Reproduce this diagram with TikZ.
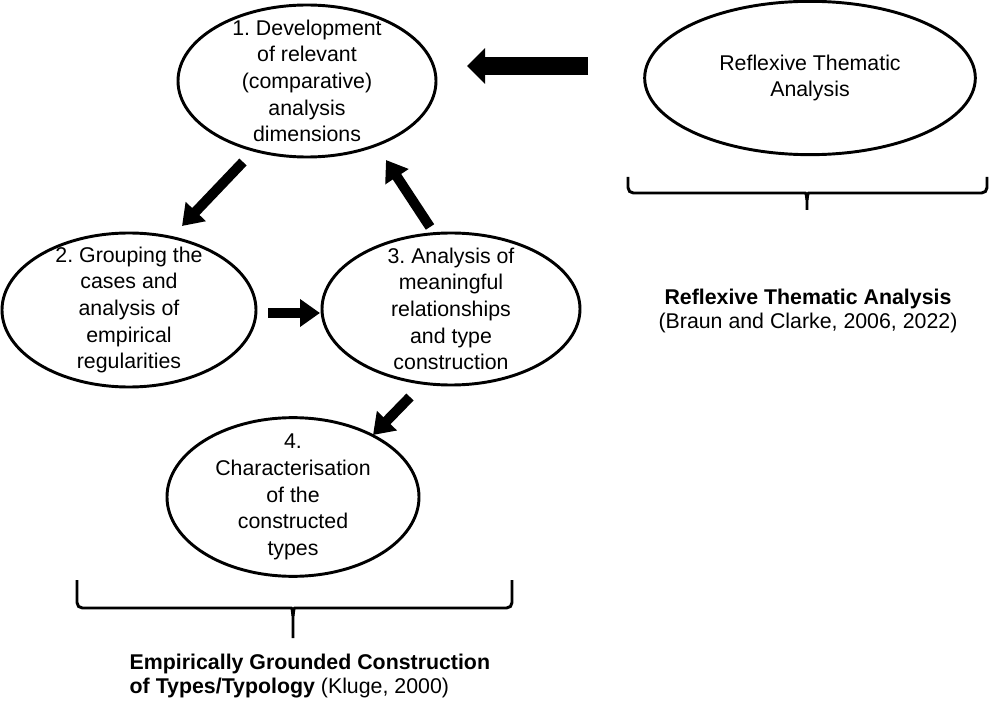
\documentclass[tikz,border=0pt]{standalone}
\usepackage{fontspec}
\setmainfont{Liberation Sans}
\usepackage{tikz}
\usetikzlibrary{arrows.meta,shapes.geometric}
\frenchspacing
\tikzstyle{stage} = [draw, ellipse, line width=2.2pt, inner sep=0pt]
\tikzstyle{stagetxt} = [align=center, font=\fontsize{16}{20}\selectfont]
\tikzstyle{es} = [line width=7.5pt, -{Triangle[width=20pt,length=15pt]}]
\tikzstyle{biges} = [line width=13.5pt, -{Triangle[width=26pt,length=13.5pt]}]
\tikzstyle{brace} = [line width=2.2pt]
\tikzstyle{ref} = [font=\fontsize{16}{18}\selectfont]

\begin{document}
\begin{tikzpicture}[x=0.75pt,y=-0.75pt]
			\useasboundingbox (0,0) rectangle (989,702);
			% stages of the typology
			\node[stage, minimum width=193.5pt, minimum height=114pt, label={[stagetxt]center:{1. Development\\of relevant\\(comparative)\\analysis\\dimensions}}] (dev) at (307,81) {};
			\node[stage, minimum width=190.5pt, minimum height=115.5pt, label={[stagetxt]center:{2. Grouping the\\cases and\\analysis of\\empirical\\regularities}}] (grp) at (129,310) {};
			\node[stage, minimum width=193.5pt, minimum height=114pt, label={[stagetxt]center:{3. Analysis of\\meaningful\\relationships\\and type\\construction}}] (ana) at (451,309) {};
			\node[stage, minimum width=189pt, minimum height=119pt, label={[stagetxt]center:{4.\\Characterisation\\of the\\constructed\\types}}] (cha) at (293,497) {};
			\node[stage, minimum width=248pt, minimum height=115pt, label={[stagetxt]center:{Reflexive Thematic\\Analysis}}] (rta) at (810,78) {};
			% arrow ends
			\coordinate (dev-out) at (243,162);
			\coordinate (grp-in) at (182,226);
			\coordinate (grp-out) at (268,313);
			\coordinate (ana-in) at (320,313);
			\coordinate (ana-up) at (430,227);
			\coordinate (dev-in) at (386,160);
			\coordinate (ana-down) at (410,397);
			\coordinate (cha-in) at (373,435);
			\coordinate (rta-out) at (588,66);
			\coordinate (dev-side) at (467,66);
			\draw [es] (dev-out) -- (grp-in);
			\draw [es] (grp-out) -- (ana-in);
			\draw [es] (ana-up) -- (dev-in);
			\draw [es] (ana-down) -- (cha-in);
			\draw [biges] (rta-out) -- (dev-side);
			% braces
			\draw [brace] (628,177) [rounded corners=4pt] |- (800,193) [sharp corners] .. controls (806,193) .. (807,200) -- (807,210);
			\draw [brace] (987,177) [rounded corners=4pt] |- (814,193) [sharp corners] .. controls (808,193) .. (807,200);
			\draw [brace] (77,580) [rounded corners=4pt] |- (286,608) [sharp corners] .. controls (292,608) .. (293,616) -- (293,638);
			\draw [brace] (512,580) [rounded corners=4pt] |- (300,608) [sharp corners] .. controls (294,608) .. (293,616);
			% sources
			\node[ref, align=center] (rtaref) at (808,311) {\textbf{Reflexive Thematic Analysis}\\(Braun and Clarke, 2006, 2022)};
			\node[ref, align=left, anchor=west] (typref) at (125,676) {\textbf{Empirically Grounded Construction}\\\textbf{of Types/Typology} (Kluge, 2000)};
		\end{tikzpicture}
\end{document}
